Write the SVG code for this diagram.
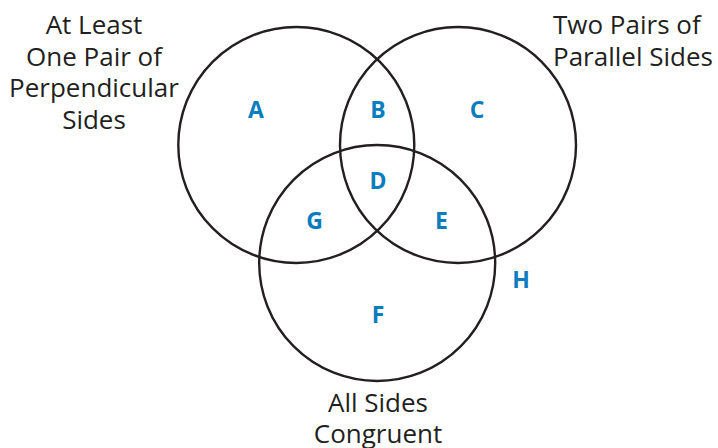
<svg xmlns="http://www.w3.org/2000/svg" width="718" height="448" viewBox="0 0 718 448">
<style>
.c{fill:none;stroke:#231f20;stroke-width:2.4}
.t{font-family:"Open Sans","Liberation Sans",sans-serif;font-size:26px;fill:#231f20}
.m{text-anchor:middle}
.l{font-family:"Open Sans","Liberation Sans",sans-serif;font-weight:bold;font-size:23px;fill:#0b7dbe;text-anchor:middle}
</style>
<rect width="718" height="448" fill="#ffffff"/>
<g id="circles">
<circle id="perp" class="c" cx="296.3" cy="145" r="118"/>
<circle id="para" class="c" cx="458" cy="145" r="118"/>
<circle id="cong" class="c" cx="377.2" cy="263" r="118"/>
</g>
<g id="title-perp" class="t m">
<text x="94" y="34.3">At Least</text>
<text x="94" y="65.8">One Pair of</text>
<text x="94" y="97.3">Perpendicular</text>
<text x="94" y="129">Sides</text>
</g>
<g id="title-para" class="t">
<text x="553" y="34.3">Two Pairs of</text>
<text x="553" y="65.8">Parallel Sides</text>
</g>
<g id="title-cong" class="t m">
<text x="378" y="411.7">All Sides</text>
<text x="378" y="443.2">Congruent</text>
</g>
<g id="regions" class="l">
<text x="256" y="118.3">A</text>
<text x="378" y="118.3">B</text>
<text x="477" y="118.3">C</text>
<text x="378" y="189">D</text>
<text x="441.5" y="229.3">E</text>
<text x="378" y="323">F</text>
<text x="314.5" y="229.3">G</text>
<text x="521" y="288">H</text>
</g>
</svg>
